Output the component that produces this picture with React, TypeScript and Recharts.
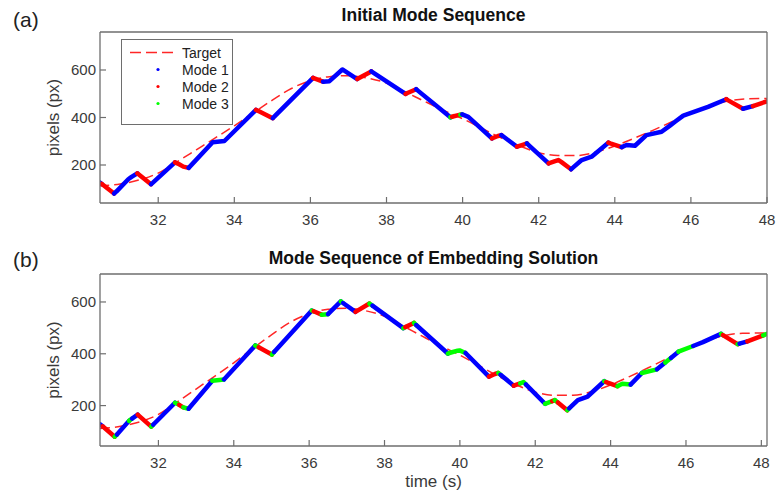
import React from 'react';
import { LineChart, Line, XAxis, YAxis, Legend } from 'recharts';

// Trajectory (time in s, pixels)
const pathT = [30.45, 30.52, 30.84, 30.90, 31.22, 31.30, 31.45, 31.81, 31.86, 32.44,
  32.55, 32.66, 32.80, 33.43, 33.74, 34.57, 34.66, 35.01, 35.07, 36.07,
  36.12, 36.33, 36.50, 36.84, 36.90, 37.23, 37.60, 37.68, 38.50, 38.55,
  38.78, 38.84, 39.68, 39.72, 39.94, 39.99, 40.15, 40.77, 40.93, 41.02,
  41.08, 41.43, 41.60, 41.69, 41.75, 42.26, 42.45, 42.52, 42.60, 42.85,
  42.90, 43.13, 43.39, 43.83, 43.88, 44.18, 44.31, 44.53, 44.83, 45.23,
  45.45, 45.60, 45.80, 46.19, 46.45, 46.93, 46.98, 47.37, 47.42, 47.63,
  48.05, 48.15];
const pathV = [128, 120, 80, 88, 141, 150, 165, 119, 126, 211,
  203, 193, 188, 296, 301, 432, 425, 397, 407, 567,
  564, 551, 553, 602, 596, 562, 594, 586, 499, 503,
  519, 511, 401, 403, 412, 413, 403, 312, 322, 326,
  319, 277, 286, 291, 282, 207, 217, 221, 212, 182,
  189, 221, 235, 294, 291, 275, 284, 281, 326, 340,
  366, 384, 408, 430, 445, 477, 472, 437, 439, 448,
  471, 477];

// Mode of each segment (1, 2, 3)
const modesTop = [1, 2, 1, 1, 1, 1, 2, 1, 1, 2, 2, 2, 1, 1, 1, 2, 2, 1, 1, 2,
  2, 1, 1, 1, 1, 2, 1, 1, 2, 2, 1, 1, 3, 2, 3, 1, 1, 2, 2, 1,
  1, 2, 2, 1, 1, 2, 2, 2, 2, 1, 1, 1, 1, 2, 2, 1, 1, 1, 1, 1,
  1, 1, 1, 1, 1, 2, 2, 1, 1, 2, 2];
const modesBottom = [1, 2, 3, 1, 3, 1, 2, 3, 1, 3, 2, 3, 1, 3, 1, 3, 2, 3, 1, 3,
  2, 3, 1, 3, 1, 2, 3, 1, 3, 2, 3, 1, 3, 3, 3, 3, 1, 2, 2, 3,
  1, 2, 3, 3, 1, 3, 2, 3, 2, 3, 1, 1, 1, 3, 2, 3, 3, 1, 3, 1,
  3, 1, 3, 1, 1, 3, 2, 3, 1, 2, 3];

// Target trajectory
const targetT = [30.45, 31, 31.5, 32, 32.5, 33, 33.5, 34, 34.5, 35, 35.5, 36, 36.5, 37, 37.5,
  38, 38.5, 39, 39.5, 40, 40.5, 41, 41.5, 42, 42.5, 43, 43.5, 44, 44.5, 45, 45.5,
  46, 46.5, 47, 47.5, 48, 48.15];
const targetV = [112, 120, 137, 166, 214, 264, 314, 365, 420, 473, 522, 555, 572, 576, 566,
  545, 507, 468, 430, 395, 355, 315, 280, 252, 240, 240, 254, 280, 312, 346, 382,
  417, 448, 470, 479, 480, 480];

const xTicks = [32, 34, 36, 38, 40, 42, 44, 46, 48];
const yTicks = [200, 400, 600];
const legendNames = ['Target', 'Mode 1', 'Mode 2', 'Mode 3'];
const modeColors: Record<number, string> = { 1: '#0000ff', 2: '#ff0000', 3: '#00ff00' };

const FONT = '"Liberation Sans", Arial, Helvetica, sans-serif';
const AXIS = '#6e6e6e';
const TEXT = '#3a3a3a';

const targetData = targetT.map((t, i) => ({ t, v: targetV[i] }));

function buildRuns(modes: number[]) {
  const runs: { mode: number; data: { t: number; v: number }[] }[] = [];
  let start = 0;
  for (let i = 1; i <= modes.length; i++) {
    if (i === modes.length || modes[i] !== modes[start]) {
      const data = [];
      for (let k = start; k <= i; k++) data.push({ t: pathT[k], v: pathV[k] });
      runs.push({ mode: modes[start], data });
      start = i;
    }
  }
  return runs;
}

const LegendBox = () => (
  <div style={{ width: 112, height: 86, border: `1.2px solid ${AXIS}`, background: '#fff', fontFamily: FONT, fontSize: 14, color: '#222', boxSizing: 'border-box', position: 'relative' }}>
    {legendNames.map((name, i) => (
      <div key={name} style={{ position: 'absolute', left: 0, top: 4 + i * 17, height: 17, width: 112, display: 'flex', alignItems: 'center' }}>
        <svg width={60} height={17} style={{ flex: 'none' }}>
          {i === 0 ? (
            <line x1={8} x2={56} y1={8.5} y2={8.5} stroke="#ff0000" strokeOpacity={0.85} strokeWidth={1.5} strokeDasharray="11 5" />
          ) : (
            <circle cx={36} cy={8.5} r={1.6} fill={modeColors[i]} />
          )}
        </svg>
        <span style={{ marginLeft: 0 }}>{name}</span>
      </div>
    ))}
  </div>
);

type PanelProps = {
  height: number; marginTop: number; xAxisHeight: number;
  xDomain: [number, number]; yDomain: [number, number]; modes: number[]; legend: boolean;
};

function Panel({ height, marginTop, xAxisHeight, xDomain, yDomain, modes, legend }: PanelProps) {
  const runs = buildRuns(modes);
  const tickStyle = { fill: TEXT, fontSize: 15, fontFamily: FONT };
  return (
    <LineChart width={777} height={height} margin={{ top: marginTop, right: 9, bottom: 0, left: 60 }}>
      <XAxis dataKey="t" type="number" domain={xDomain} allowDataOverflow ticks={xTicks}
        height={xAxisHeight} tickSize={-6} tickMargin={17} tick={tickStyle}
        axisLine={{ stroke: AXIS, strokeWidth: 1.3 }} tickLine={{ stroke: AXIS, strokeWidth: 1.2 }} />
      <XAxis xAxisId="top" orientation="top" dataKey="t" type="number" domain={xDomain} allowDataOverflow ticks={xTicks}
        height={1} tickSize={-6} tick={false}
        axisLine={{ stroke: AXIS, strokeWidth: 1.3 }} tickLine={{ stroke: AXIS, strokeWidth: 1.2 }} />
      <YAxis type="number" domain={yDomain} allowDataOverflow ticks={yTicks} width={40}
        tickSize={-6} tickMargin={10} tick={tickStyle}
        axisLine={{ stroke: AXIS, strokeWidth: 1.3 }} tickLine={{ stroke: AXIS, strokeWidth: 1.2 }} />
      <YAxis yAxisId="right" orientation="right" type="number" domain={yDomain} allowDataOverflow ticks={yTicks} width={1}
        tickSize={-6} tick={false}
        axisLine={{ stroke: AXIS, strokeWidth: 1.3 }} tickLine={{ stroke: AXIS, strokeWidth: 1.2 }} />
      <Line data={targetData} dataKey="v" type="monotone" stroke="#ff0000" strokeOpacity={0.85} strokeWidth={1.5}
        strokeDasharray="10 5" dot={false} activeDot={false} isAnimationActive={false} legendType="none" />
      {runs.map((r, i) => (
        <Line key={i} data={r.data} dataKey="v" type="linear" stroke={modeColors[r.mode]} strokeWidth={4.5}
          strokeLinecap="round" strokeLinejoin="round" dot={false} activeDot={false} isAnimationActive={false} legendType="none" />
      ))}
      {legend && (
        <Legend layout="vertical" align="center" verticalAlign="middle" content={LegendBox}
          wrapperStyle={{ left: 121, top: 39, width: 112, height: 86 }} />
      )}
    </LineChart>
  );
}

export default function App() {
  return (
    <div style={{ position: 'absolute', left: 0, top: 0, width: 777, height: 495, background: '#fff' }}>
      <div style={{ position: 'absolute', left: 0, top: 0 }}>
        <Panel height={240} marginTop={31} xAxisHeight={37} xDomain={[30.47, 48.0]} yDomain={[40, 760]} modes={modesTop} legend />
      </div>
      <div style={{ position: 'absolute', left: 0, top: 240 }}>
        <Panel height={255} marginTop={33} xAxisHeight={49} xDomain={[30.45, 48.15]} yDomain={[44, 708]} modes={modesBottom} legend={false} />
      </div>
      <svg width={777} height={495} style={{ position: 'absolute', left: 0, top: 0, pointerEvents: 'none' }} fontFamily={FONT}>
        <text x={13} y={27} fontSize={21} fill="#222">(a)</text>
        <text x={433.5} y={21} fontSize={17.5} fontWeight="bold" textAnchor="middle" fill="#111">Initial Mode Sequence</text>
        <text transform="translate(59,117.5) rotate(-90)" fontSize={17} textAnchor="middle" fill={TEXT}>pixels (px)</text>
        <text x={13} y={267} fontSize={21} fill="#222">(b)</text>
        <text x={433.5} y={264} fontSize={17.5} fontWeight="bold" textAnchor="middle" fill="#111">Mode Sequence of Embedding Solution</text>
        <text transform="translate(59,360) rotate(-90)" fontSize={17} textAnchor="middle" fill={TEXT}>pixels (px)</text>
        <text x={433.5} y={487} fontSize={17} textAnchor="middle" fill={TEXT}>time (s)</text>
      </svg>
    </div>
  );
}
